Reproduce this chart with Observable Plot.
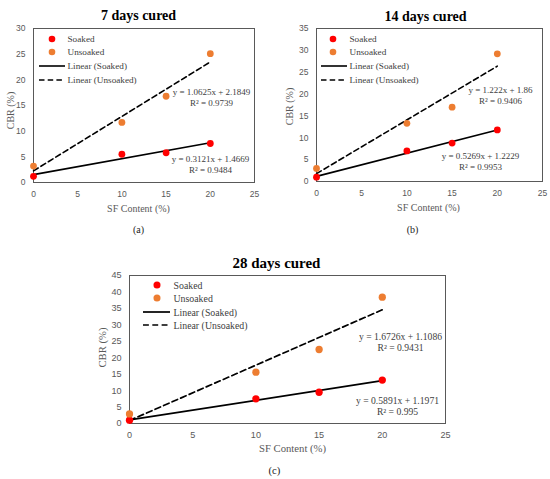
<!DOCTYPE html>
<html><head><meta charset="utf-8">
<script src="https://cdn.jsdelivr.net/npm/d3@7"></script>
<script src="https://cdn.jsdelivr.net/npm/@observablehq/plot@0.6"></script>
<style>
html,body{margin:0;padding:0;background:#fff}
#page{position:relative;width:550px;height:479px;overflow:hidden;background:#fff}
.panel{position:absolute}
.panel svg{overflow:visible;background:transparent}
</style></head><body>
<div id="page">
  <div id="pa" class="panel"></div>
  <div id="pb" class="panel"></div>
  <div id="pc" class="panel"></div>
</div>
<script>
// ---------- data ----------
const sfContent = [0, 10, 15, 20];
const soaked7 = [1.2, 5.5, 5.8, 7.6];
const unsoaked7 = [3.2, 11.7, 16.8, 25.1];
const soaked14 = [1.0, 7.0, 8.8, 11.8];
const unsoaked14 = [3.0, 13.3, 17.0, 29.2];
const soaked28 = [1.0, 7.5, 9.5, 13.2];
const unsoaked28 = [2.9, 15.6, 22.5, 38.4];
const titles = ["7 days cured", "14 days cured", "28 days cured"];
const captions = ["(a)", "(b)", "(c)"];
const yMax = [30, 35, 45];
const xTicks = [0, 5, 10, 15, 20, 25];
const eqUnsoaked = ["y = 1.0625x + 2.1849", "y = 1.222x + 1.86", "y = 1.6726x + 1.1086"];
const r2Unsoaked = ["R\u00B2 = 0.9739", "R\u00B2 = 0.9406", "R\u00B2 = 0.9431"];
const eqSoaked = ["y = 0.3121x + 1.4669", "y = 0.5269x + 1.2229", "y = 0.5891x + 1.1971"];
const r2Soaked = ["R\u00B2 = 0.9484", "R\u00B2 = 0.9953", "R\u00B2 = 0.995"];
const seriesNames = ["Soaked", "Unsoaked"];
const legendLabels = ["Soaked", "Unsoaked", "Linear (Soaked)", "Linear (Unsoaked)"];
const xLabel = "SF Content (%)";
const yLabel = "CBR (%)";

// ---------- styles / layout ----------
const RED = "#FF0000", ORANGE = "#ED7D31", GRAY = "#595959";
const SERIF = "Liberation Serif", SANS = "Liberation Sans";

const layouts = [
  { el: "pa", svg: {left: 0, top: 0, w: 275, h: 240}, plot: {l: 33, r: 254, t: 28, b: 182}, s: 1,
    title: [138, 15], xlab: [138, 208], ylab: [10, 110], cap: [138, 229],
    eqU: [211, 92], eqS: [210, 159], leg: {dot: 52, x1: 39, x2: 65, tx: 67, y: [39, 52, 66, 80]} },
  { el: "pb", svg: {left: 275, top: 0, w: 275, h: 240}, plot: {l: 316, r: 542, t: 28, b: 181}, s: 1,
    title: [425, 16], xlab: [428, 207], ylab: [289, 106], cap: [412, 229],
    eqU: [500, 90], eqS: [480, 156], leg: {dot: 333, x1: 321, x2: 347, tx: 349, y: [39, 52, 66, 80]} },
  { el: "pc", svg: {left: 60, top: 240, w: 420, h: 239}, plot: {l: 129, r: 445, t: 275, b: 423}, s: 1.07,
    title: [276, 263], xlab: [292, 448], ylab: [102, 347], cap: [274, 470],
    eqU: [400, 336], eqS: [397, 400], leg: {dot: 157, x1: 143, x2: 170, tx: 173, y: [285, 298, 312, 325]} }
];
const soakedSets = [soaked7, soaked14, soaked28];
const unsoakedSets = [unsoaked7, unsoaked14, unsoaked28];

function drawPanel(i) {
  const L = layouts[i], P = L.plot, S = L.svg, k = L.s;
  const data = sfContent.flatMap((x, j) => [
    {x, y: soakedSets[i][j], s: seriesNames[0]},
    {x, y: unsoakedSets[i][j], s: seriesNames[1]}
  ]);
  const at = (p) => ({frameAnchor: "top-left", dx: p[0] - P.l, dy: p[1] - P.t});
  const txt = (str, p, o = {}) => Plot.text([str], {text: d => d, textAnchor: "middle", lineAnchor: "middle", ...at(p), ...o});
  const eqLine = 10.5 * k;
  const dash = `${5.5 * k},${3.2 * k}`;

  // legend swatches drawn in pixel space relative to the frame
  const legendMark = (index, scales, values, dims) => {
    const g = d3.create("svg:g");
    const ox = dims.marginLeft - P.l, oy = dims.marginTop - P.t;
    const lg = L.leg;
    [RED, ORANGE].forEach((c, j) => {
      g.append("circle").attr("cx", lg.dot + ox).attr("cy", lg.y[j] + oy).attr("r", 3.3 * k).attr("fill", c);
    });
    [null, dash].forEach((da, j) => {
      const ln = g.append("line").attr("x1", lg.x1 + ox).attr("x2", lg.x2 + ox)
        .attr("y1", lg.y[j + 2] + oy).attr("y2", lg.y[j + 2] + oy)
        .attr("stroke", "black").attr("stroke-width", 1.6 * k);
      if (da) ln.attr("stroke-dasharray", da);
    });
    return g.node();
  };

  const plot = Plot.plot({
    width: S.w, height: S.h,
    marginLeft: P.l - S.left, marginRight: S.left + S.w - P.r,
    marginTop: P.t - S.top, marginBottom: S.top + S.h - P.b,
    style: {fontFamily: SANS, background: "transparent", overflow: "visible"},
    x: {domain: [0, 25]},
    y: {domain: [0, yMax[i]]},
    color: {domain: seriesNames, range: [RED, ORANGE]},
    marks: [
      Plot.frame({stroke: GRAY, strokeWidth: 1}),
      Plot.axisX(xTicks, {tickSize: 0, tickPadding: 8, fontSize: 8.5 * k, fill: GRAY, fontFamily: SANS, label: null}),
      Plot.axisY(d3.range(0, yMax[i] + 1, 5), {tickSize: 0, tickPadding: 8, fontSize: 8.5 * k, fill: GRAY, fontFamily: SANS, label: null}),
      Plot.linearRegressionY(data.filter(d => d.s === seriesNames[0]), {x: "x", y: "y", stroke: "black", strokeWidth: 1.6 * k, ci: 0}),
      Plot.linearRegressionY(data.filter(d => d.s === seriesNames[1]), {x: "x", y: "y", stroke: "black", strokeWidth: 1.6 * k, strokeDasharray: dash, ci: 0}),
      Plot.dot(data, {x: "x", y: "y", fill: "s", r: 3.4 * k}),
      legendMark,
      txt(titles[i], L.title, {fontFamily: SERIF, fontWeight: "bold", fontSize: 14 * k, fill: "black"}),
      txt(xLabel, L.xlab, {fontFamily: SERIF, fontSize: 10 * k, fill: GRAY}),
      txt(yLabel, L.ylab, {fontFamily: SERIF, fontSize: 10 * k, fill: GRAY, rotate: -90}),
      txt(captions[i], L.cap, {fontFamily: SERIF, fontSize: 10 * k, fill: "#222"}),
      txt(eqUnsoaked[i], L.eqU, {fontFamily: SERIF, fontSize: 9 * k, fill: "#404040"}),
      txt(r2Unsoaked[i], [L.eqU[0], L.eqU[1] + eqLine], {fontFamily: SERIF, fontSize: 9 * k, fill: "#404040"}),
      txt(eqSoaked[i], L.eqS, {fontFamily: SERIF, fontSize: 9 * k, fill: "#404040"}),
      txt(r2Soaked[i], [L.eqS[0], L.eqS[1] + eqLine], {fontFamily: SERIF, fontSize: 9 * k, fill: "#404040"}),
      ...legendLabels.map((lab, j) => txt(lab, [L.leg.tx, L.leg.y[j]], {fontFamily: SERIF, fontSize: 9.2 * k, fill: "#404040", textAnchor: "start"}))
    ]
  });
  const host = document.getElementById(L.el);
  host.style.left = S.left + "px";
  host.style.top = S.top + "px";
  host.appendChild(plot);
}
[0, 1, 2].forEach(drawPanel);
</script>
</body></html>
